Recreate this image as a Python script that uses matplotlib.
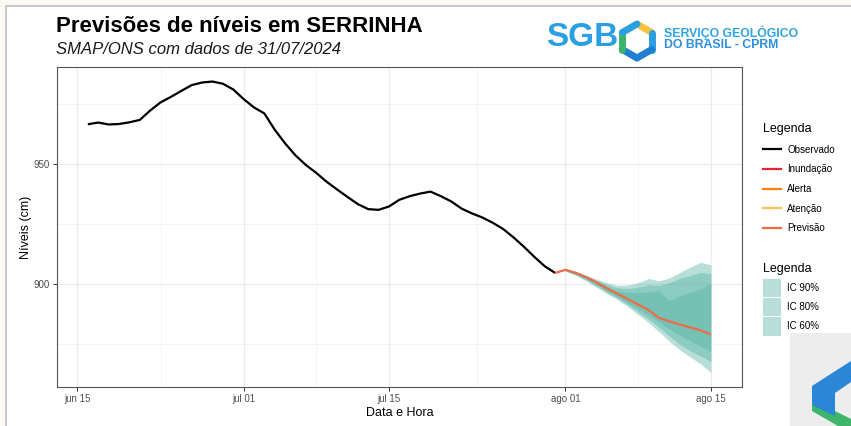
"""Previsão de níveis para a estação SERRINHA (SMAP/ONS)."""

import matplotlib

matplotlib.use("Agg")

import matplotlib.pyplot as plt
import numpy as np
import pandas as pd
from matplotlib.lines import Line2D
from matplotlib.patches import Patch, Polygon, Rectangle

plt.rcParams["font.family"] = ["Liberation Sans", "DejaVu Sans"]

W, H = 851, 426

# Níveis observados (cm), um valor por dia
obs_dates = pd.date_range("2024-06-16", "2024-07-31", freq="D")
obs_levels = [
    966.5, 967.2, 966.4, 966.6, 967.3, 968.3, 972.2, 975.6, 977.9, 980.4,
    982.8, 983.9, 984.3, 983.4, 981.0, 977.0, 973.5, 971.0, 964.2, 958.5,
    953.5, 949.5, 946.2, 942.5, 939.3, 936.2, 933.2, 931.1, 930.8, 932.2,
    935.0, 936.5, 937.6, 938.4, 936.5, 934.3, 931.3, 929.3, 927.6, 925.4,
    922.8, 919.3, 915.4, 911.2, 907.3, 904.5,
]

# Previsão SMAP/ONS
prev_dates = pd.date_range("2024-07-31", "2024-08-15", freq="D")
prev_levels = [
    904.5, 905.8, 904.5, 902.7, 900.5, 898.0, 895.8, 893.6, 891.3, 889.0,
    885.8, 884.3, 883.0, 881.8, 880.6, 878.8,
]

# Intervalos de confiança
ic_dates = pd.date_range("2024-08-01", "2024-08-15", freq="D")
ic90_low = [905.2, 903.5, 901.2, 898.5, 895.8, 893.4, 890.4, 887.2, 883.8, 880.0,
            876.0, 872.5, 869.5, 866.6, 863.0]
ic90_high = [906.2, 905.2, 903.6, 901.9, 900.4, 899.3, 899.4, 900.4, 902.2, 901.2,
             902.4, 904.7, 906.9, 908.9, 907.9]
ic80_low = [905.3, 903.7, 901.5, 899.0, 896.4, 894.0, 891.2, 888.2, 885.2, 881.8,
            878.2, 874.8, 872.0, 869.8, 867.6]
ic80_high = [906.1, 905.0, 903.3, 901.4, 899.6, 898.3, 898.0, 898.6, 899.5, 899.3,
             900.4, 902.2, 903.4, 904.7, 904.2]
ic60_low = [905.4, 903.9, 901.9, 899.5, 897.0, 894.6, 892.0, 889.5, 886.8, 884.0,
            881.0, 878.5, 876.2, 874.0, 871.8]
ic60_high = [906.0, 904.8, 903.0, 901.0, 898.8, 897.0, 896.5, 896.3, 896.6, 897.2,
             893.0, 895.0, 896.3, 897.8, 900.3]

tick_dates = pd.to_datetime(["2024-06-15", "2024-07-01", "2024-07-15", "2024-08-01", "2024-08-15"])
tick_labels = ["jun 15", "jul 01", "jul 15", "ago 01", "ago 15"]
y_major = [900, 950]

BAND_COLOR = "#55b3a2"
BAND_ALPHA = 0.42
LINE_COLORS = {
    "Observado": "#000000",
    "Inundação": "#e3262f",
    "Alerta": "#ff7f0e",
    "Atenção": "#fdbf5a",
    "Previsão": "#ef6a47",
}


def px(x, y):
    """Converte pixels (origem no canto superior esquerdo) em fração da figura."""
    return x / W, 1 - y / H


fig = plt.figure(figsize=(W / 100, H / 100), dpi=100)
fig.patch.set_facecolor("white")

# moldura clara
fig.add_artist(Rectangle((0, 0), 1, 1, transform=fig.transFigure,
                         facecolor="#fbf9f2", edgecolor="none", zorder=-3))
fig.add_artist(Rectangle(px(5, H), (W - 5) / W, (H - 5) / H, transform=fig.transFigure,
                         facecolor="#c9c9c9", edgecolor="none", zorder=-2))
fig.add_artist(Rectangle(px(7, H), (W - 7) / W, (H - 7) / H, transform=fig.transFigure,
                         facecolor="white", edgecolor="none", zorder=-1))

left, top = px(56.7, 67)
right, bottom = px(742, 387)
ax = fig.add_axes([left, bottom, right - left, top - bottom])

for lo, hi in [(ic90_low, ic90_high), (ic80_low, ic80_high), (ic60_low, ic60_high)]:
    ax.fill_between(ic_dates, lo, hi, color=BAND_COLOR, alpha=BAND_ALPHA, linewidth=0)

ax.plot(obs_dates, obs_levels, color=LINE_COLORS["Observado"], lw=1.6, solid_capstyle="butt")
ax.plot(prev_dates, prev_levels, color=LINE_COLORS["Previsão"], lw=1.6, solid_capstyle="butt")

# expansão de 5% como no ggplot
x_all = pd.DatetimeIndex(list(obs_dates) + list(prev_dates))
x_span = x_all.max() - x_all.min()
ax.set_xlim(x_all.min() - 0.05 * x_span, x_all.max() + 0.05 * x_span)
y_all = np.concatenate([obs_levels, prev_levels, ic90_low, ic90_high])
y_span = y_all.max() - y_all.min()
ax.set_ylim(y_all.min() - 0.05 * y_span, y_all.max() + 0.05 * y_span)

ax.set_xticks(tick_dates)
ax.set_xticklabels(tick_labels)
x_minor = tick_dates[:-1] + (tick_dates[1:] - tick_dates[:-1]) / 2
ax.set_xticks(x_minor, minor=True)
ax.set_yticks(y_major)
ax.set_yticks([875, 925, 975], minor=True)

ax.grid(which="major", color="#ebebeb", lw=0.9)
ax.grid(which="minor", color="#f3f3f3", lw=0.6)
ax.set_axisbelow(True)
ax.tick_params(which="major", length=3, width=0.7, color="#333333",
               labelsize=7, labelcolor="#4d4d4d", pad=2)
ax.tick_params(which="minor", length=0)
for spine in ax.spines.values():
    spine.set_color("#555555")
    spine.set_linewidth(0.8)

ax.set_xlabel("Data e Hora", fontsize=9, labelpad=2)
ax.set_ylabel("Níveis (cm)", fontsize=9, labelpad=1)

fig.text(*px(56, 27), "Previsões de níveis em SERRINHA", fontsize=16,
         fontweight="bold", va="center", ha="left")
fig.text(*px(56, 50), "SMAP/ONS com dados de 31/07/2024", fontsize=12,
         style="italic", va="center", ha="left", color="#1a1a1a")

# legenda das linhas
line_handles = [Line2D([], [], color=c, lw=1.6) for c in LINE_COLORS.values()]
leg1 = fig.legend(line_handles, list(LINE_COLORS.keys()), title="Legenda",
                  loc="upper left", bbox_to_anchor=px(758, 118), frameon=False,
                  fontsize=7, title_fontsize=9, handlelength=1.9, handletextpad=0.6,
                  labelspacing=1.0, borderpad=0, alignment="left")

# legenda dos intervalos
band_handles = [Patch(facecolor=BAND_COLOR, alpha=BAND_ALPHA, edgecolor="none") for _ in range(3)]
leg2 = fig.legend(band_handles, ["IC 90%", "IC 80%", "IC 60%"], title="Legenda",
                  loc="upper left", bbox_to_anchor=px(758, 258), frameon=False,
                  fontsize=7, title_fontsize=9, handlelength=1.85, handleheight=2.5,
                  handletextpad=0.6, labelspacing=0.1, borderpad=0, alignment="left")
leg2._legend_box.sep = 3

# logotipo SGB
fig.text(*px(546, 38), "SGB", fontsize=24, fontweight="heavy", color="#2a9fe2",
         va="center", ha="left")
hx, hy, r = 637, 41, 17
angles = np.deg2rad([90, 30, -30, -90, -150, 150, 90])
hex_pts = [px(hx + r * np.cos(a), hy - r * np.sin(a)) for a in angles]
seg_colors = ["#f6c343", "#2a9fe2", "#1f7fd0", "#1f7fd0", "#3cb56a", "#2a9fe2"]
for i, c in enumerate(seg_colors):
    fig.add_artist(Line2D([hex_pts[i][0], hex_pts[i + 1][0]],
                          [hex_pts[i][1], hex_pts[i + 1][1]],
                          transform=fig.transFigure, color=c, lw=5,
                          solid_capstyle="round"))
fig.text(*px(664, 33), "SERVIÇO GEOLÓGICO", fontsize=8.8, fontweight="bold",
         color="#2ea3e3", va="center", ha="left")
fig.text(*px(664, 45), "DO BRASIL - CPRM", fontsize=8.8, fontweight="bold",
         color="#2a8fdc", va="center", ha="left")

# selo no canto inferior direito
fig.add_artist(Rectangle(px(790, H), (W - 790) / W, (H - 333) / H,
                         transform=fig.transFigure, facecolor="#ededed",
                         edgecolor="none", zorder=5))
blue = [px(812, 386), px(851, 361), px(851, 382), px(835, 393), px(835, 416), px(812, 405)]
green = [px(812, 398), px(835, 411), px(851, 419), px(851, 426), px(838, 426), px(812, 411)]
fig.add_artist(Polygon(green, closed=True, transform=fig.transFigure,
                       facecolor="#3fb56c", edgecolor="none", zorder=6))
fig.add_artist(Polygon(blue, closed=True, transform=fig.transFigure,
                       facecolor="#2a86d6", edgecolor="none", zorder=7))

fig.savefig("out.png", dpi=100)
